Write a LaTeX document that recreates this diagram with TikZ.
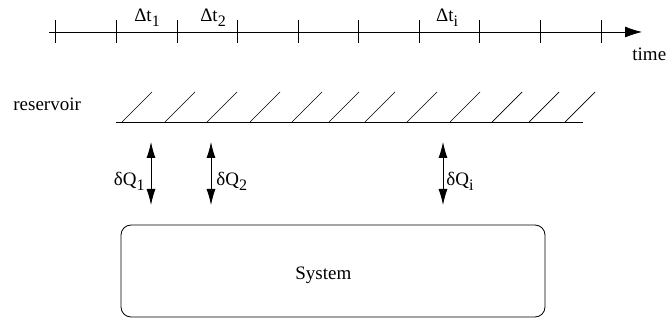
\documentclass[tikz,border=0pt]{standalone}
\usepackage{fontspec}
\setmainfont{Liberation Serif}
\usetikzlibrary{arrows.meta}
\newcommand\lowsub[1]{\raisebox{-5pt}{\fontsize{16}{16}\selectfont #1}}
\begin{document}
\begin{tikzpicture}[x=1pt,y=-1pt,line width=0.8pt,
  font=\fontsize{19}{22}\selectfont,
  lbl/.style={inner sep=0pt,anchor=base},
  tick/.style={line width=0.8pt},
  hatch/.style={line width=0.7pt},
  axisarrow/.style={-{Latex[length=17pt,width=11pt]}},
  flow/.style={{Latex[length=16pt,width=9pt]}-{Latex[length=16pt,width=9pt]}},
  sysbox/.style={draw,rounded corners=10pt,minimum width=424pt,minimum height=92pt,inner sep=0pt}]
\useasboundingbox (0,0) rectangle (666,320);
% time axis
\coordinate (t0) at (49,32);
\coordinate (t1) at (642,32);
\draw[axisarrow] (t0) -- (t1);
\foreach \x in {55,116,177,237,298,358,419,479,540,601}
  \draw[tick] (\x,20) -- (\x,43);
\node[lbl] (dt1) at (147,22) {Δt\lowsub{1}};
\node[lbl] (dt2) at (213,22) {Δt\lowsub{2}};
\node[lbl] (dti) at (447,22) {Δt\lowsub{i}};
\node[lbl,anchor=base west] (time) at (632,61) {time};
% reservoir
\node[lbl,anchor=base west] (res) at (13,111) {reservoir};
\coordinate (r0) at (116,122);
\coordinate (r1) at (583,122);
\draw (r0) -- (r1);
\foreach \x in {122,165,207,250,292,329,365,407,450,492,529,565}
  \draw[hatch] (\x,122) -- ++(30,-30);
% heat flows
\coordinate (a1t) at (151,142); \coordinate (a1b) at (151,205);
\coordinate (a2t) at (211,142); \coordinate (a2b) at (211,205);
\coordinate (ait) at (443,142); \coordinate (aib) at (443,205);
\draw[flow] (a1t) -- (a1b);
\draw[flow] (a2t) -- (a2b);
\draw[flow] (ait) -- (aib);
\node[lbl,anchor=base east] (q1) at (145,186) {δQ\lowsub{1}};
\node[lbl,anchor=base west] (q2) at (216,186) {δQ\lowsub{2}};
\node[lbl,anchor=base west] (qi) at (446,186) {δQ\lowsub{i}};
% system
\node[sysbox] (sys) at (333,271) {};
\node[lbl,anchor=base west] (systxt) at (295,279) {System};
\end{tikzpicture}
\end{document}
